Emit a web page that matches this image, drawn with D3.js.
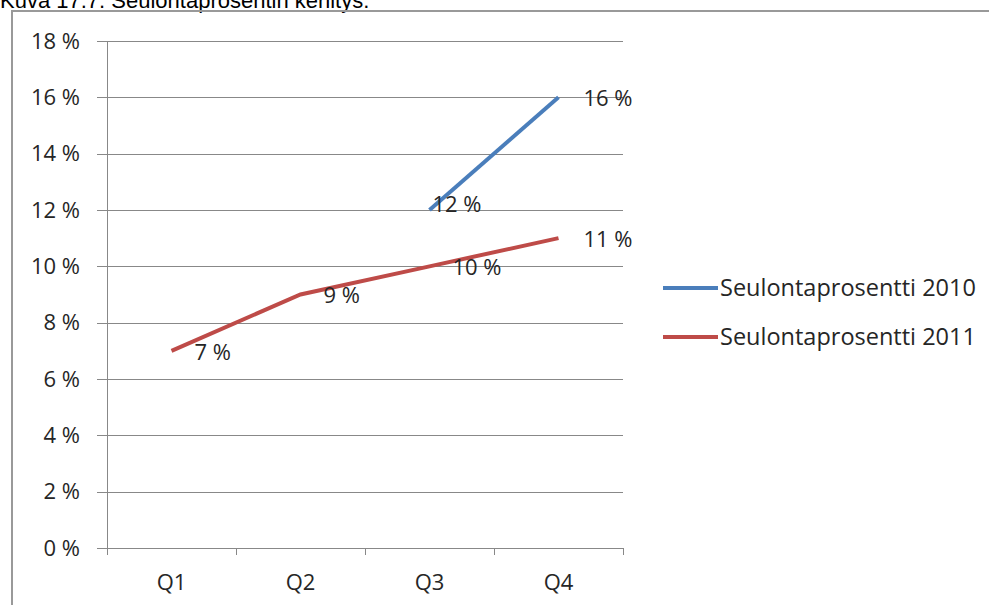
<!DOCTYPE html>
<meta charset="utf-8">
<style>
body { margin: 0; background: #fff; }
svg text { font-family: "Open Sans", "Lato", sans-serif; fill: #262626; }
.title { font-family: "Liberation Sans", Arial, sans-serif; }
.grid line { stroke: #888; stroke-width: 1; shape-rendering: crispEdges; }
.axis path, .axis line { stroke: #888; shape-rendering: crispEdges; }
.axis text { font-size: 22px; }
</style>
<svg width="989" height="605"></svg>
<script src="https://d3js.org/d3.v7.min.js"></script>
<script>

var quarters = ["Q1", "Q2", "Q3", "Q4"];
var yTicks = [0, 2, 4, 6, 8, 10, 12, 14, 16, 18];
var seriesNames = ["Seulontaprosentti 2010", "Seulontaprosentti 2011"];
var values2010 = [null, null, 12, 16];
var values2011 = [7, 9, 10, 11];
var colors = ["#4a7ebb", "#be4b48"];

var svg = d3.select("svg"),
    margin = {top: 41, left: 107},
    width = 516,
    height = 507;

// frame and caption
svg.append("text")
    .attr("class", "title")
    .attr("x", 0)
    .attr("y", 8)
    .style("font-size", "22px")
    .style("fill", "#000")
    .text("Kuva 17.7. Seulontaprosentin kehitys.");

svg.append("rect")
    .attr("x", 12)
    .attr("y", 11)
    .attr("width", 990)
    .attr("height", 610)
    .attr("fill", "none")
    .attr("stroke", "#999")
    .attr("stroke-width", 2);

var x = d3.scaleBand().domain(quarters).range([0, width]);
var y = d3.scaleLinear().domain([0, 18]).range([height, 0]);

var g = svg.append("g")
    .attr("transform", "translate(" + margin.left + "," + margin.top + ")");

g.append("g")
    .attr("class", "grid")
  .selectAll("line")
  .data(yTicks.slice(1))
  .enter().append("line")
    .attr("x1", 0)
    .attr("x2", width)
    .attr("y1", function(d) { return y(d) + 0.5; })
    .attr("y2", function(d) { return y(d) + 0.5; });

var fmt = function(d) { return d + " %"; };

g.append("g")
    .attr("class", "axis")
    .call(d3.axisLeft(y).tickValues(yTicks).tickSize(10).tickPadding(17).tickFormat(fmt))
    .call(function(s) { s.select(".domain").attr("d", "M0.5," + (height + 7) + "V0"); });

g.append("g")
    .attr("class", "axis")
    .attr("transform", "translate(0," + height + ")")
    .call(d3.axisBottom(x).tickSize(0).tickPadding(26))
    .call(function(s) { s.select(".domain").attr("d", "M-10,0.5H" + width); })
    .call(function(s) {
      s.selectAll(".xt").data(quarters).enter().append("line")
          .attr("x1", function(d) { return x(d) + x.bandwidth() + 0.5; })
          .attr("x2", function(d) { return x(d) + x.bandwidth() + 0.5; })
          .attr("y1", 0).attr("y2", 7)
          .attr("stroke", "#888");
    });

var line = d3.line()
    .defined(function(d) { return d.v != null; })
    .x(function(d) { return x(d.q) + x.bandwidth() / 2; })
    .y(function(d) { return y(d.v); });

[values2010, values2011].forEach(function(vals, i) {
  var pts = quarters.map(function(q, j) { return {q: q, v: vals[j]}; });
  g.append("path")
      .datum(pts)
      .attr("fill", "none")
      .attr("stroke", colors[i])
      .attr("stroke-width", 4)
      .attr("d", line);

  // labels sit right of the point; the 2010 Q3 one is nudged up-left like the original
  g.selectAll(".lbl" + i)
    .data(pts.filter(function(d) { return d.v != null; }))
    .enter().append("text")
      .attr("x", function(d) {
        var dx = (i === 0 && d.q === "Q3") ? 3 : (d.q === "Q4" ? 25 : 23);
        return x(d.q) + x.bandwidth() / 2 + dx;
      })
      .attr("y", function(d) {
        var dy = (i === 0 && d.q === "Q3") ? -6 : 1;
        return y(d.v) + dy;
      })
      .attr("dy", "0.35em")
      .style("font-size", "22px")
      .text(function(d) { return fmt(d.v); });
});

var legend = svg.append("g")
    .attr("transform", "translate(663,288)");

seriesNames.forEach(function(name, i) {
  var row = legend.append("g").attr("transform", "translate(0," + i * 49 + ")");
  row.append("line")
      .attr("x1", 0).attr("x2", 55)
      .attr("stroke", colors[i])
      .attr("stroke-width", 4);
  row.append("text")
      .attr("x", 57)
      .attr("dy", "0.35em")
      .style("font-size", "23.5px")
      .text(name);
});

</script>
